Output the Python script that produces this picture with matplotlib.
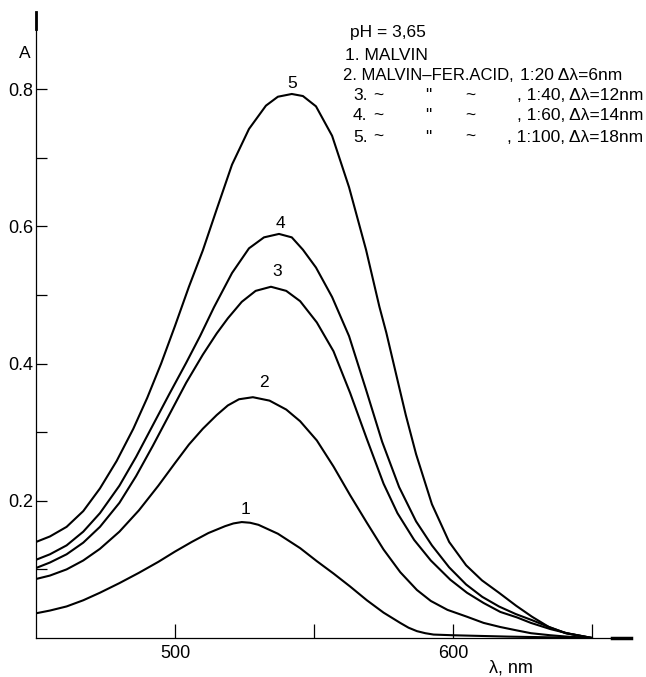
import numpy as np
import matplotlib
matplotlib.use('Agg')
import matplotlib.pyplot as plt

plt.rcParams['font.family'] = ['Liberation Sans', 'DejaVu Sans']

# absorption spectra, wavelength (nm) vs absorbance
wl1 = [450, 455, 461, 467, 473, 480, 487, 494, 500, 506, 512, 518, 521, 524, 527, 530, 537,
       545, 551, 557, 563, 569, 575, 581, 584, 587, 590, 593, 600, 620, 650]
a1 = [0.036, 0.040, 0.046, 0.055, 0.066, 0.080, 0.095, 0.111, 0.126, 0.140, 0.153, 0.163,
      0.167, 0.169, 0.168, 0.165, 0.152, 0.131, 0.112, 0.094, 0.075, 0.055, 0.037, 0.022,
      0.015, 0.010, 0.007, 0.005, 0.004, 0.002, 0.0]

wl2 = [450, 455, 461, 467, 473, 480, 487, 494, 500, 505, 510, 515, 519, 523, 528, 534, 540,
       545, 551, 557, 563, 569, 575, 581, 587, 592, 598, 605, 611, 617, 623, 628, 635, 641, 650]
a2 = [0.086, 0.091, 0.100, 0.113, 0.130, 0.155, 0.186, 0.222, 0.255, 0.282, 0.305, 0.325,
      0.339, 0.348, 0.351, 0.346, 0.333, 0.316, 0.288, 0.250, 0.208, 0.168, 0.129, 0.096,
      0.070, 0.054, 0.041, 0.031, 0.022, 0.016, 0.011, 0.007, 0.004, 0.002, 0.0]

wl3 = [450, 455, 461, 467, 473, 480, 486, 492, 498, 504, 510, 515, 519, 524, 529, 534.5,
       540, 545, 551, 557, 563, 569, 575, 580, 586, 592, 599, 605, 611, 617, 623, 628, 635, 641, 650]
a3 = [0.102, 0.110, 0.122, 0.139, 0.162, 0.197, 0.236, 0.280, 0.326, 0.372, 0.413, 0.444,
      0.466, 0.490, 0.506, 0.512, 0.506, 0.491, 0.460, 0.418, 0.357, 0.290, 0.225, 0.182,
      0.143, 0.113, 0.085, 0.066, 0.051, 0.038, 0.030, 0.022, 0.013, 0.007, 0.0]

wl4 = [450, 455, 461, 467, 473, 480, 486, 492, 498, 504, 509, 514, 520.5, 526.6, 532, 537.4,
       542, 546, 550.7, 556.5, 562.6, 568.7, 574.5, 580.6, 586.7, 592.4, 598.6, 604.7, 610.5,
       616.5, 622.5, 628.4, 634.5, 640.6, 650]
a4 = [0.114, 0.122, 0.135, 0.155, 0.182, 0.222, 0.264, 0.310, 0.356, 0.401, 0.440, 0.482,
      0.532, 0.568, 0.584, 0.589, 0.584, 0.566, 0.540, 0.497, 0.440, 0.362, 0.286, 0.220,
      0.170, 0.135, 0.103, 0.078, 0.060, 0.046, 0.035, 0.026, 0.016, 0.007, 0.0]

wl5 = [450, 455, 461, 467, 473, 479, 485, 490, 495, 500, 505, 510, 515, 520.5, 526.6,
       532.7, 537, 542, 546, 550.7, 556.5, 562.6, 568.7, 573.5, 576, 580.6, 583, 586.7,
       592.4, 598.6, 604.7, 610.4, 616.5, 622.7, 628.4, 634.5, 640.6, 650]
a5 = [0.140, 0.148, 0.162, 0.185, 0.218, 0.258, 0.305, 0.350, 0.400, 0.455, 0.512, 0.565,
      0.625, 0.690, 0.742, 0.776, 0.789, 0.793, 0.790, 0.775, 0.732, 0.657, 0.566, 0.483,
      0.445, 0.366, 0.325, 0.268, 0.195, 0.140, 0.106, 0.084, 0.066, 0.047, 0.031, 0.016,
      0.007, 0.0]

curve_ids = ['1', '2', '3', '4', '5']
label_pos = [(525.5, 0.187), (532, 0.372), (536.7, 0.534), (537.8, 0.604), (542, 0.808)]

W, H = 646, 677
fig = plt.figure(figsize=(W / 100, H / 100), dpi=100)
ax = fig.add_axes([36 / W, 39 / H, 595 / W, 626 / H])

for wl, a in zip([wl1, wl2, wl3, wl4, wl5], [a1, a2, a3, a4, a5]):
    ax.plot(wl, a, color='black', lw=1.5, solid_joinstyle='round', solid_capstyle='round')

for cid, (x, y) in zip(curve_ids, label_pos):
    ax.text(x, y, cid, ha='center', va='center', fontsize=12.5)

ax.set_xlim(450, 664)
ax.set_ylim(0, 0.9125)
for s in ['top', 'right']:
    ax.spines[s].set_visible(False)
for s in ['left', 'bottom']:
    ax.spines[s].set_linewidth(0.9)

ax.set_xticks([500, 550, 600, 650])
ax.set_xticklabels(['500', '', '600', ''])
ax.set_yticks([0.1, 0.2, 0.3, 0.4, 0.5, 0.6, 0.7, 0.8])
ax.set_yticklabels(['', '0.2', '', '0.4', '', '0.6', '', '0.8'])
ax.tick_params(axis='x', direction='in', length=10, width=0.9, labelsize=13, pad=5)
ax.tick_params(axis='y', direction='in', length=8, width=0.9, labelsize=13, pad=2)

# thick ends of the axes
ax.plot([657, 664], [0, 0], color='black', lw=2.5, clip_on=False)
ax.plot([450, 450], [0.887, 0.912], color='black', lw=2.0, clip_on=False)

def ftext(x, y, s, size=12.5, **kw):
    fig.text(x / W, 1 - y / H, s, va='center', fontsize=size, **kw)

ftext(25, 53, 'A', size=12.5, ha='center')
ftext(511, 668, 'λ, nm', size=13, ha='center')

ftext(350, 33, 'pH = 3,65')
ftext(345, 55, '1. MALVIN')
ftext(343, 76, '2. MALVIN–FER.ACID,', size=12)
ftext(520, 76, '1:20 Δλ=6nm')
rows = [('3.', ', 1:40, Δλ=12nm', 96), ('4.', ', 1:60, Δλ=14nm', 116),
        ('5.', ', 1:100, Δλ=18nm', 137)]
for num, tail, y in rows:
    ftext(353, y, num)
    ftext(378, y, '~', ha='center')
    ftext(428, y, '"', ha='center')
    ftext(470, y, '~', ha='center')
    ftext(643, y, tail, ha='right')

fig.savefig('out.png', dpi=100)
